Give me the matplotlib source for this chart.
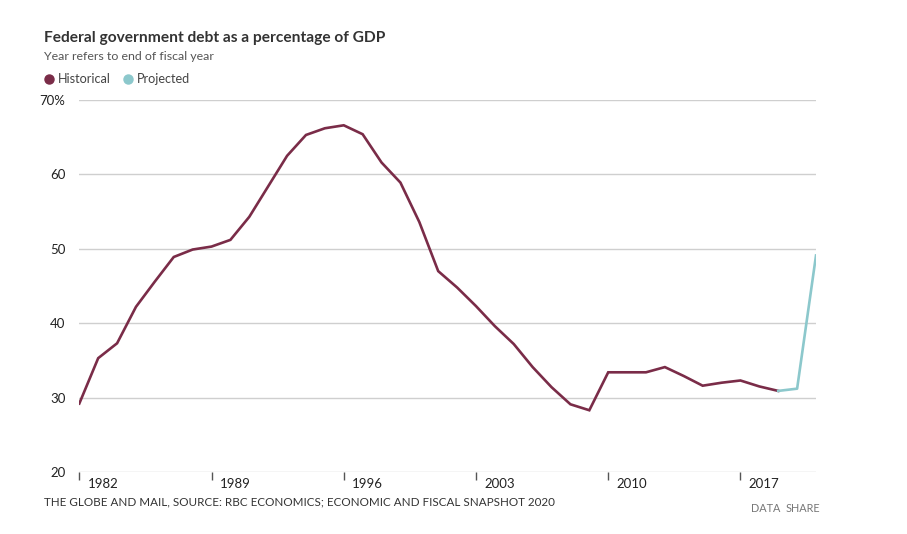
import matplotlib
matplotlib.use('Agg')
import matplotlib.pyplot as plt
import matplotlib.transforms as mtransforms

plt.rcParams['font.family'] = ['Lato', 'DejaVu Sans']

# data (debt as % of GDP, end of fiscal year)
hist_years = list(range(1982, 2020))
hist_vals = [29.2, 35.3, 37.3, 42.2, 45.6, 48.9, 49.9, 50.3, 51.2, 54.3,
             58.4, 62.5, 65.3, 66.2, 66.6, 65.4, 61.6, 58.9, 53.6, 47.0,
             44.8, 42.3, 39.6, 37.2, 34.1, 31.4, 29.1, 28.3, 33.4, 33.4,
             33.4, 34.1, 32.9, 31.6, 32.0, 32.3, 31.5, 30.9]
proj_years = [2019, 2020, 2021]
proj_vals = [30.9, 31.2, 49.1]

x_ticks = [1982, 1989, 1996, 2003, 2010, 2017]
y_ticks = [20, 30, 40, 50, 60, 70]
y_labels = ['20', '30', '40', '50', '60', '70%']

hist_color = '#7a2c48'
proj_color = '#8cc8cc'

fig = plt.figure(figsize=(9.07, 5.34), dpi=100)
ax = fig.add_axes([79.3/907, 62/534, (816-79.3)/907, 372/534])

for y in y_ticks:
    ax.axhline(y, color='#cfcfcf', lw=1, zorder=1)

ax.plot(hist_years, hist_vals, color=hist_color, lw=1.9, zorder=3,
        solid_joinstyle='miter')
ax.plot(proj_years, proj_vals, color=proj_color, lw=1.9, zorder=3)

ax.set_xlim(1982, 2021)
ax.set_ylim(20, 70)
for s in ax.spines.values():
    s.set_visible(False)

ax.set_yticks(y_ticks)
ax.set_yticklabels(y_labels)
ax.tick_params(axis='y', length=0, pad=10, labelsize=9.5, labelcolor='#222')
ax.set_xticks(x_ticks)
ax.set_xticklabels([str(x) for x in x_ticks])
ax.tick_params(axis='x', length=6, width=1, color='#555', pad=-2,
               labelsize=9.5, labelcolor='#222')
shift = mtransforms.ScaledTranslation(6/72, 0, fig.dpi_scale_trans)
for lab in ax.get_xticklabels():
    lab.set_horizontalalignment('left')
    lab.set_transform(lab.get_transform() + shift)

# titles and legend
fig.text(44/907, 1-38/534, 'Federal government debt as a percentage of GDP',
         fontsize=11.2, fontweight='bold', color='#333', va='center')
fig.text(44/907, 1-57/534, 'Year refers to end of fiscal year',
         fontsize=8.9, color='#555', va='center')
fig.lines.append(plt.Line2D([49/907], [1-79/534], marker='o', ms=6.5,
                            color=hist_color, transform=fig.transFigure))
fig.text(58/907, 1-79/534, 'Historical', fontsize=9.1, color='#444', va='center')
fig.lines.append(plt.Line2D([128/907], [1-79/534], marker='o', ms=6.5,
                            color=proj_color, transform=fig.transFigure))
fig.text(137/907, 1-79/534, 'Projected', fontsize=9.1, color='#444', va='center')

fig.text(44/907, 1-502/534,
         'THE GLOBE AND MAIL, SOURCE: RBC ECONOMICS; ECONOMIC AND FISCAL SNAPSHOT 2020',
         fontsize=8.35, color='#333', va='center')
fig.text(751/907, 1-508/534, 'DATA', fontsize=7.8, color='#777', va='center')
fig.text(786/907, 1-508/534, 'SHARE', fontsize=7.8, color='#777', va='center')

plt.savefig('out.png', dpi=100)
plt.close()
